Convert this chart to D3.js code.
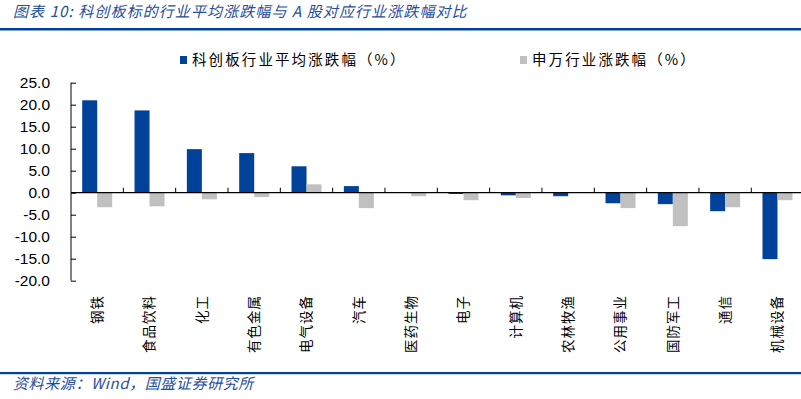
<!DOCTYPE html>
<html>
<head>
<meta charset="utf-8">
<script src="https://cdn.jsdelivr.net/npm/d3@7"></script>
<style>
  body { margin: 0; background: #fff; }
  svg { display: block; }
</style>
</head>
<body>
<div id="chart"></div>
<script>
// industries along the x axis
const categories = ["钢铁", "食品饮料", "化工", "有色金属", "电气设备", "汽车", "医药生物",
                    "电子", "计算机", "农林牧渔", "公用事业", "国防军工", "通信", "机械设备"];
const seriesNames = ["科创板行业平均涨跌幅（%）", "申万行业涨跌幅（%）"];
// 科创板 average change per industry (%)
const kcbValues = [21.0, 18.7, 9.9, 9.0, 6.0, 1.5, 0.0, -0.3, -0.6, -0.8, -2.4, -2.6, -4.2, -15.1];
// Shenwan industry change (%)
const swValues = [-3.3, -3.1, -1.5, -1.0, 1.9, -3.5, -0.8, -1.7, -1.2, 0.0, -3.5, -7.6, -3.3, -1.7];
const yTicks = [25, 20, 15, 10, 5, 0, -5, -10, -15, -20];

const blue = "#00419a";
const grey = "#c0c0c0";
const titleBlue = "#1f4e9c";

function drawChart() {
  const width = 801, height = 399;
  const svg = d3.select("#chart").append("svg")
      .attr("width", width)
      .attr("height", height);

  // title and rule underneath
  svg.append("text")
     .attr("x", 13)
     .attr("y", 17)
     .attr("font-size", "15px")
     .attr("font-family", "'Noto Sans CJK SC', sans-serif")
     .attr("font-style", "italic")
     .attr("fill", titleBlue)
     .attr("letter-spacing", "1.1px")
     .text("图表 10:  科创板标的行业平均涨跌幅与 A 股对应行业涨跌幅对比");

  svg.append("rect")
     .attr("x", 0).attr("y", 28)
     .attr("width", width).attr("height", 2.5)
     .attr("fill", blue);

  // scales
  const x0 = d3.scaleBand()
      .domain(categories)
      .range([71, 71 + 14 * 52.33]);
  const x1 = d3.scaleBand()
      .domain([0, 1])
      .range([11.2, 41.2]);
  const y = d3.scaleLinear()
      .domain([-20, 25])
      .range([280.7, 82.7]);

  const rows = categories.map((c, i) => ({ cat: c, vals: [kcbValues[i], swValues[i]] }));

  const groups = svg.append("g")
    .selectAll("g")
    .data(rows)
    .enter().append("g")
      .attr("transform", d => "translate(" + x0(d.cat) + ",0)");

  groups.selectAll("rect")
    .data(d => d.vals.map((v, k) => ({ k: k, v: v })))
    .enter().append("rect")
      .attr("x", d => x1(d.k))
      .attr("width", x1.bandwidth())
      .attr("y", d => y(Math.max(0, d.v)))
      .attr("height", d => Math.abs(y(d.v) - y(0)))
      .attr("fill", d => d.k === 0 ? blue : grey);

  // y axis, ticks point inward
  const yAxis = svg.append("g")
      .attr("transform", "translate(71,0)")
      .call(d3.axisRight(y).tickValues(yTicks).tickSize(5).tickFormat(""));
  yAxis.select(".domain").attr("d", "M0," + y(25) + "V" + y(-20)).attr("stroke", "#000");
  yAxis.selectAll(".tick line").attr("stroke", "#000");

  svg.append("g")
    .selectAll("text")
    .data(yTicks)
    .enter().append("text")
      .attr("x", 50)
      .attr("y", d => y(d))
      .attr("dy", "0.36em")
      .attr("text-anchor", "end")
      .attr("font-size", "15.5px")
      .attr("font-family", "'Liberation Sans', Arial, sans-serif")
      .attr("fill", "#000")
      .text(d => d.toFixed(1));

  // x axis at zero with upward ticks between categories
  const xAxis = svg.append("g")
      .attr("transform", "translate(0," + y(0) + ")");
  xAxis.append("line")
      .attr("x1", 71).attr("x2", width)
      .attr("stroke", "#000").attr("stroke-width", 1.2);
  xAxis.selectAll(".sep")
    .data(categories.slice(1))
    .enter().append("line")
      .attr("class", "sep")
      .attr("x1", d => x0(d)).attr("x2", d => x0(d))
      .attr("y1", 0).attr("y2", -5)
      .attr("stroke", "#000");

  // vertical category labels, reading bottom to top
  svg.append("g")
    .selectAll("text")
    .data(categories)
    .enter().append("text")
      .attr("transform", d => "translate(" + (x0(d) + x0.bandwidth() / 2 + 5) + ",295) rotate(-90)")
      .attr("text-anchor", "end")
      .attr("font-size", "13.5px")
      .attr("letter-spacing", "1px")
      .attr("font-family", "'Noto Sans CJK SC', sans-serif")
      .attr("fill", "#000")
      .text(d => d);

  // legend
  const legendX = [180, 520];
  const legend = svg.append("g")
    .selectAll("g")
    .data(seriesNames)
    .enter().append("g")
      .attr("transform", (d, i) => "translate(" + legendX[i] + ",56)");
  legend.append("rect")
      .attr("width", 7).attr("height", 8)
      .attr("fill", (d, i) => i === 0 ? blue : grey);
  legend.append("text")
      .attr("x", 12)
      .attr("y", 4)
      .attr("dy", "0.36em")
      .attr("font-size", "14.5px")
      .attr("letter-spacing", "2.1px")
      .attr("font-family", "'Noto Sans CJK SC', sans-serif")
      .attr("fill", "#000")
      .text(d => d);

  // source footer
  svg.append("rect")
     .attr("x", 0).attr("y", 372)
     .attr("width", width).attr("height", 2.2)
     .attr("fill", blue);
  svg.append("text")
     .attr("x", 13)
     .attr("y", 389)
     .attr("font-size", "15px")
     .attr("font-family", "'Noto Sans CJK SC', sans-serif")
     .attr("font-style", "italic")
     .attr("letter-spacing", "0.6px")
     .attr("fill", titleBlue)
     .text("资料来源：Wind，国盛证券研究所");
}

drawChart();
</script>
</body>
</html>
